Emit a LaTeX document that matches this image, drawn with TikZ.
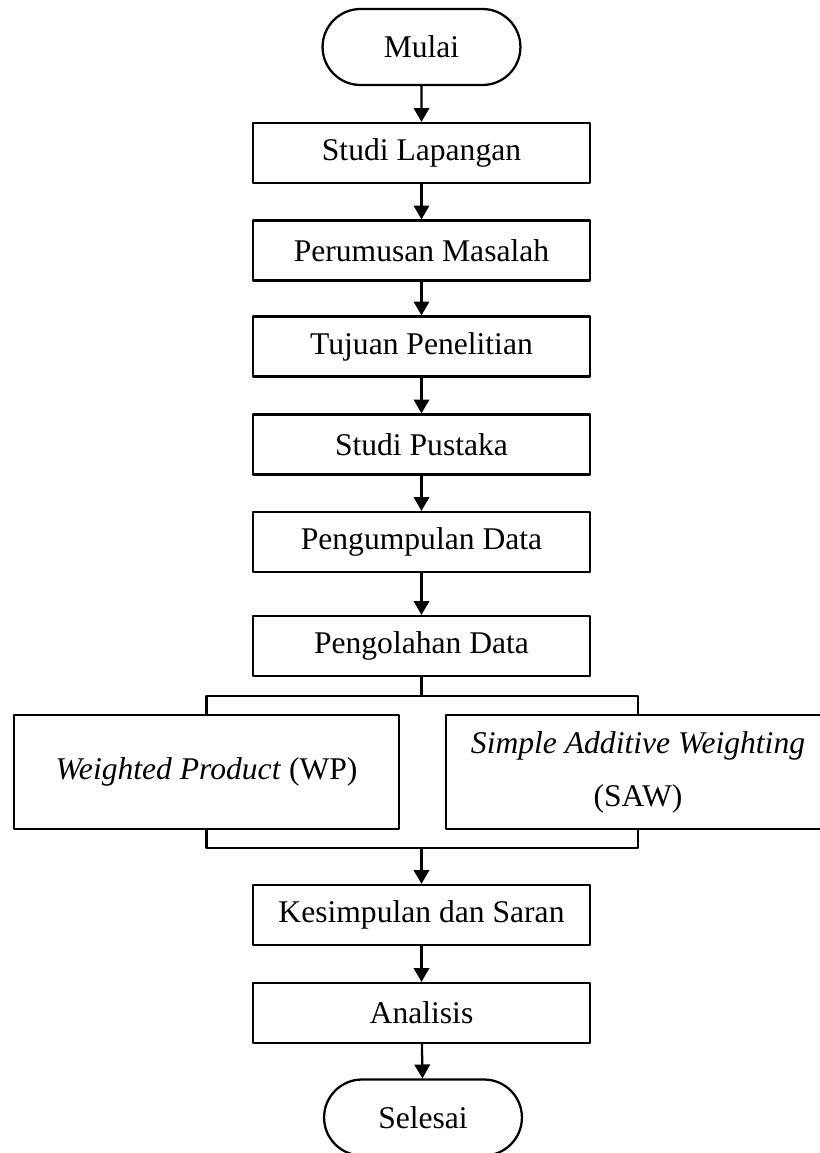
\documentclass[tikz,border=0pt]{standalone}
\usepackage{fontspec}
\setmainfont{Liberation Serif}
\usepackage{tikz}
\usetikzlibrary{arrows.meta,shapes.misc}
\tikzset{
  every picture/.style={line join=round, >=Stealth},
  proses/.style={draw, line width=0.85pt, rectangle, inner sep=0pt, minimum width=126.4pt, minimum height=22.5pt, font=\fontsize{11.85}{14}\selectfont},
  terminal/.style={draw, line width=0.85pt, rounded rectangle, inner sep=0pt, minimum width=74.2pt, minimum height=28.5pt, font=\fontsize{11.85}{14}\selectfont},
  metode/.style={draw, line width=0.85pt, rectangle, inner sep=0pt, minimum width=144.2pt, minimum height=42.7pt, align=center, font=\fontsize{11.85}{19.9}\selectfont},
  alur/.style={line width=0.85pt},
  panah/.style={line width=0.85pt, -{Triangle[length=5.2pt,width=5.8pt]}},
}

\begin{document}
\begin{tikzpicture}[x=0.375pt,y=-0.375pt]
\useasboundingbox (0,0) rectangle (820,1153);
\node[terminal] (mulai) at (421.5,47) {Mulai};
\node[proses] (lapangan) at (421.5,153) {Studi Lapangan};
\node[proses] (masalah) at (421.5,250.5) {Perumusan Masalah};
\node[proses] (tujuan) at (421.5,346.5) {Tujuan Penelitian};
\node[proses] (pustaka) at (421.5,444.5) {Studi Pustaka};
\node[proses] (kumpul) at (421.5,542) {Pengumpulan Data};
\node[proses] (olah) at (421.5,646) {Pengolahan Data};
\node[metode] (wp) at (206.5,772) {\textit{Weighted Product} (WP)};
\node[metode] (saw) at (638,772) {\textit{Simple Additive Weighting}\\(SAW)};
\node[proses] (simpulan) at (421.5,915) {Kesimpulan dan Saran};
\node[proses] (analisis) at (421.5,1013) {Analisis};
\node[terminal] (selesai) at (423,1117.5) {Selesai};
\coordinate (cabang) at (421.5,695.7);
\coordinate (gabung) at (421.5,848);
\draw[panah] (mulai) -- (lapangan);
\draw[panah] (lapangan) -- (masalah);
\draw[panah] (masalah) -- (tujuan);
\draw[panah] (tujuan) -- (pustaka);
\draw[panah] (pustaka) -- (kumpul);
\draw[panah] (kumpul) -- (olah);
\draw[alur] (olah) -- (cabang);
\draw[alur] (wp.north) |- (cabang) -| (saw.north);
\draw[alur] (wp.south) |- (gabung) -| (saw.south);
\draw[panah] (gabung) -- (simpulan);
\draw[panah] (simpulan) -- (analisis);
\draw[panah] (analisis) -- (selesai);
\end{tikzpicture}
\end{document}
